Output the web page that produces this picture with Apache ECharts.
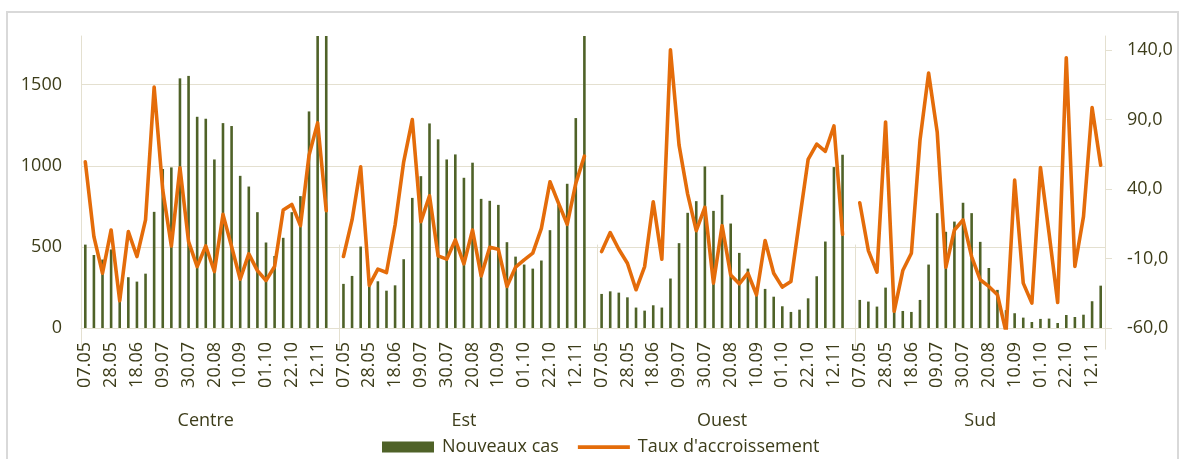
<!DOCTYPE html>
<html>
<head>
<meta charset="utf-8">
<script src="https://cdn.jsdelivr.net/npm/echarts@6/dist/echarts.min.js"></script>
<style>
  html, body { margin: 0; padding: 0; background: #fff; }
  #chart { width: 1180px; height: 459px; }
</style>
</head>
<body>
<div id="chart"></div>
<script>
// regions and weeks
const regions = ["Centre", "Est", "Ouest", "Sud"];
const weeks = ["07.05", "14.05", "21.05", "28.05", "04.06", "11.06", "18.06", "25.06",
  "02.07", "09.07", "16.07", "23.07", "30.07", "06.08", "13.08", "20.08", "27.08",
  "03.09", "10.09", "17.09", "24.09", "01.10", "08.10", "15.10", "22.10", "29.10",
  "05.11", "12.11", "19.11"];

// Nouveaux cas
const casCentre = [514, 450, 422, 484, 178, 313, 286, 335, 716, 980, 990, 1539, 1554, 1302, 1290,
  1039, 1263, 1245, 938, 872, 714, 527, 444, 556, 714, 813, 1335, 2100, 2300];
const casEst = [272, 321, 502, 290, 288, 230, 263, 424, 802, 936, 1261, 1163, 1039, 1070, 926,
  1019, 796, 784, 759, 529, 440, 391, 366, 416, 603, 760, 889, 1294, 1900];
const casOuest = [210, 226, 218, 189, 126, 107, 140, 126, 305, 523, 710, 782, 996, 722, 821,
  644, 463, 366, 245, 241, 193, 134, 99, 113, 183, 319, 533, 992, 1068];
const casSud = [173, 163, 132, 249, 130, 105, 99, 173, 391, 708, 593, 656, 772, 708, 531,
  370, 235, 110, 91, 64, 37, 56, 58, 31, 80, 68, 82, 165, 261];

// Taux d'accroissement (%)
const tauxCentre = [59.5, 5.7, -20.6, 10.5, -40.4, 9.3, -8.6, 17.7, 113.3, 39.2, -1.0, 55.2, 2.1,
  -15.8, -1.0, -19.4, 21.7, -1.4, -24.9, -6.7, -18.7, -25.8, -15.8, 24.8, 28.9, 13.6, 64.3, 87.5, 24.4];
const tauxEst = [-8.6, 17.7, 55.9, -29.4, -17.7, -20.1, 14.1, 59.5, 89.9, 16.5, 35.1, -8.1, -10.5,
  3.3, -13.9, 10.5, -22.5, -1.9, -3.4, -30.1, -16.3, -11.0, -6.2, 11.7, 45.2, 29.6, 14.6, 44.0, 63.6];
const tauxOuest = [-5.0, 8.6, -3.4, -13.4, -32.5, -15.8, 30.8, -10.5, 140.0, 71.5, 36.3, 10.0, 26.8,
  -27.7, 13.6, -21.8, -28.2, -20.6, -36.1, 2.9, -20.6, -30.6, -26.5, 17.7, 61.2, 72.2, 67.1, 85.3, 7.4];
const tauxSud = [30.1, -4.3, -19.8, 88.2, -48.0, -18.7, -6.2, 75.0, 123.3, 81.0, -16.3, 10.5, 17.7,
  -8.6, -25.3, -30.1, -36.1, -63.0, 46.4, -27.7, -42.1, 55.4, 8.1, -41.6, 134.3, -15.8, 20.1, 98.5, 57.1];

const textColor = "#3d3d1a";
const lineColor = "#e4e0d0";
const font = "Open Sans";

// one blank slot after each region except the last
const groups = [casCentre, casEst, casOuest, casSud];
const rates = [tauxCentre, tauxEst, tauxOuest, tauxSud];
const cats = [], groupCats = [], cases = [], taux = [];
const groupStart = [], groupMid = [];
groups.forEach((g, gi) => {
  groupStart.push(cats.length);
  groupMid.push(cats.length + 14);
  weeks.forEach((w, i) => {
    cats.push(w);
    groupCats.push(regions[gi]);
    cases.push(g[i]);
    taux.push(rates[gi][i]);
  });
  if (gi < groups.length - 1) {
    cats.push("");
    groupCats.push(regions[gi]);
    cases.push(null);
    taux.push(null);
  }
});

const chart = echarts.init(document.getElementById("chart"));
chart.setOption({
  animation: false,
  textStyle: { fontFamily: font, color: textColor },
  graphic: [{
    type: "rect",
    shape: { x: 7, y: 12, width: 1171, height: 470 },
    style: { fill: "none", stroke: "#d9d9d9", lineWidth: 2 },
    silent: true,
  }],
  grid: { left: 81, right: 75, top: 36, bottom: 131 },
  legend: {
    left: 377,
    top: 433,
    itemWidth: 52,
    itemHeight: 11,
    itemGap: 19,
    textStyle: { fontFamily: font, fontSize: 18, color: textColor, padding: [0, 0, 0, 3] },
    data: [
      { name: "Nouveaux cas", icon: "rect" },
      // thin bar inside a 52x11 box, so it reads as a line
      { name: "Taux d'accroissement", icon: "path://M0,0L0.01,0L0.01,11L0,11ZM0,3.8L52,3.8L52,7.4L0,7.4Z" },
    ],
  },
  xAxis: [
    {
      type: "category",
      data: cats,
      boundaryGap: true,
      axisLine: { lineStyle: { color: lineColor } },
      axisTick: { show: false },
      axisLabel: {
        rotate: 90,
        interval: 2,
        margin: 14,
        fontFamily: font,
        fontSize: 18,
        color: textColor,
      },
    },
    {
      type: "category",
      data: groupCats,
      position: "bottom",
      boundaryGap: true,
      axisLine: { show: false },
      axisTick: {
        show: true,
        length: 105,
        interval: (i) => groupStart.includes(i),
        lineStyle: { color: lineColor },
      },
      axisLabel: {
        interval: (i) => groupMid.includes(i),
        margin: 84,
        fontFamily: font,
        fontSize: 18,
        color: textColor,
      },
    },
  ],
  yAxis: [
    {
      type: "value",
      min: 0,
      max: 1800,
      interval: 500,
      axisLine: { show: true, lineStyle: { color: lineColor } },
      axisTick: { show: false },
      axisLabel: {
        showMaxLabel: false,
        margin: 19,
        fontFamily: font,
        fontSize: 18,
        color: textColor,
        formatter: (v) => String(v),
      },
      splitLine: { lineStyle: { color: [lineColor, lineColor, lineColor, lineColor, "transparent"] } },
    },
    {
      type: "value",
      min: -60,
      max: 150,
      interval: 50,
      position: "right",
      axisLine: { show: true, lineStyle: { color: lineColor } },
      axisTick: { show: true, length: 7, lineStyle: { color: lineColor } },
      axisLabel: {
        showMaxLabel: false,
        margin: 22,
        fontFamily: font,
        fontSize: 18,
        color: textColor,
        formatter: (v) => v.toFixed(1).replace(".", ","),
      },
      splitLine: { show: false },
    },
  ],
  series: [
    {
      name: "Nouveaux cas",
      type: "bar",
      xAxisIndex: 0,
      yAxisIndex: 0,
      data: cases,
      barWidth: 2.6,
      itemStyle: { color: "#4f6228" },
    },
    {
      name: "Taux d'accroissement",
      type: "line",
      xAxisIndex: 0,
      yAxisIndex: 1,
      data: taux,
      symbol: "none",
      connectNulls: false,
      lineStyle: { color: "#e46c0a", width: 3.6, join: "round", cap: "round" },
      itemStyle: { color: "#e46c0a" },
    },
  ],
});
</script>
</body>
</html>
